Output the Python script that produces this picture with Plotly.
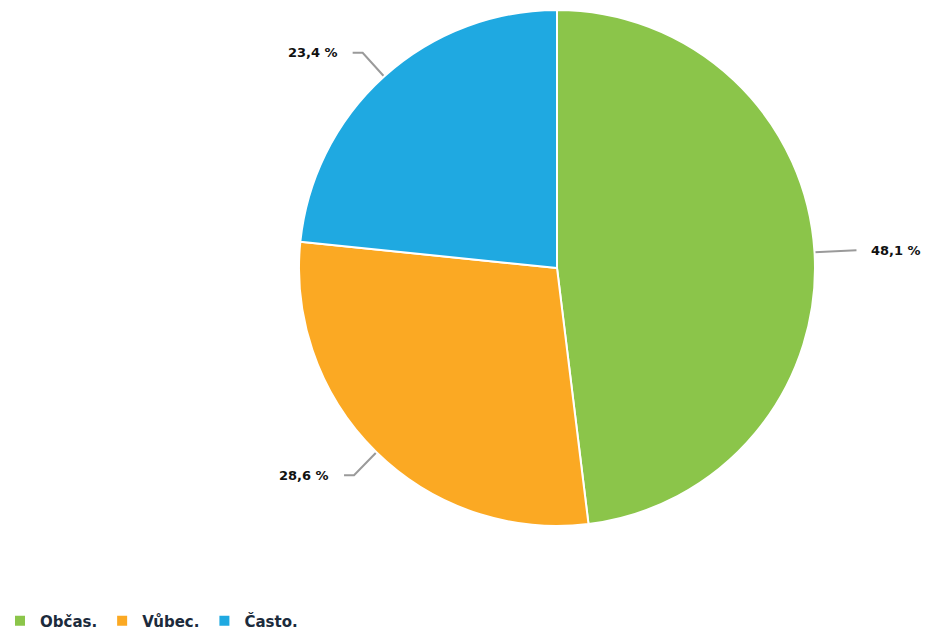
import math
import plotly.graph_objects as go

W, H = 931, 633

# Survey answers and their shares (percent)
categories = ["Občas.", "Vůbec.", "Často."]
values = [48.1, 28.6, 23.4]
value_labels = ["48,1 %", "28,6 %", "23,4 %"]
colors = ["#8BC54A", "#FBA923", "#1FA9E1"]

# Pie geometry in pixels
cx, cy, r = 557, 268, 258

fig = go.Figure()

fig.add_trace(go.Pie(
    labels=categories,
    values=values,
    sort=False,
    direction="clockwise",
    rotation=0,
    marker=dict(colors=colors, line=dict(color="white", width=2)),
    textinfo="none",
    hoverinfo="label+percent",
    domain=dict(x=[(cx - r) / W, (cx + r) / W],
                y=[(H - cy - r) / H, (H - cy + r) / H]),
    showlegend=True,
))

# Leader lines and outside labels, placed at each slice's mid-angle
total = sum(values)
cum = 0.0
annotations = []
for cat, v, txt in zip(categories, values, value_labels):
    mid = (cum + v / 2) / total * 2 * math.pi
    cum += v
    sx, sy = math.sin(mid), -math.cos(mid)
    x0, y0 = cx + r * sx, cy + r * sy
    x1, y1 = cx + (r + 32) * sx, cy + (r + 32) * sy
    side = 1 if sx >= 0 else -1
    x2 = x1 + side * 10
    fig.add_trace(go.Scatter(
        x=[x0, x1, x2], y=[y0, y1, y1], mode="lines",
        line=dict(color="#9a9a9a", width=2),
        hoverinfo="skip", showlegend=False,
    ))
    annotations.append(dict(
        x=x2 + side * 13, y=y1, xref="x", yref="y",
        text=f"<b>{txt}</b>", showarrow=False,
        xanchor="left" if side > 0 else "right", yanchor="middle",
        font=dict(family="DejaVu Sans", size=13, color="#111111"),
    ))

fig.update_layout(
    width=W, height=H,
    margin=dict(l=0, r=0, t=0, b=0, autoexpand=False),
    paper_bgcolor="white", plot_bgcolor="rgba(0,0,0,0)",
    xaxis=dict(range=[0, W], visible=False, fixedrange=True),
    yaxis=dict(range=[H, 0], visible=False, fixedrange=True),
    annotations=annotations,
    legend=dict(
        orientation="h", x=0.0, y=-0.007, xanchor="left", yanchor="bottom",
        font=dict(family="DejaVu Sans", size=15, color="#1c2b3c", weight="bold"),
        itemsizing="constant", traceorder="normal",
    ),
)

fig.write_html("out.html")
